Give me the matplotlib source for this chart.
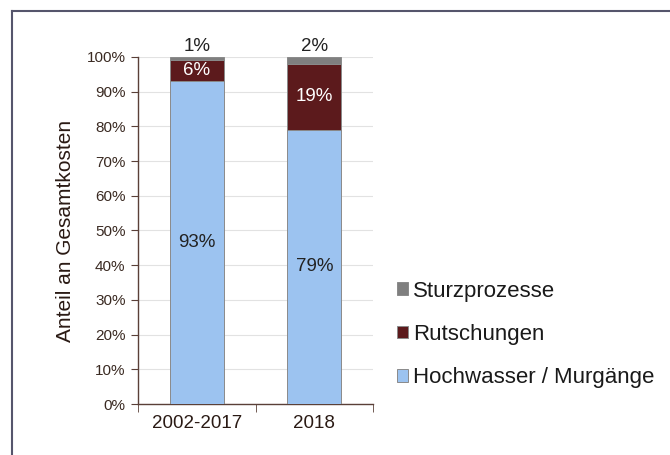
import matplotlib
matplotlib.use("Agg")
import matplotlib.pyplot as plt
import numpy as np

categories = ["2002-2017", "2018"]
hochwasser = [93, 79]
rutschungen = [6, 19]
sturz = [1, 2]
series_names = ["Hochwasser / Murgänge", "Rutschungen", "Sturzprozesse"]
colors = ["#9cc3f0", "#5c1a1c", "#7f7f7f"]

plt.rcParams['font.family'] = ['Liberation Sans', 'DejaVu Sans']

fig = plt.figure(figsize=(6.7, 4.55), dpi=100)
ax = fig.add_axes([0.206, 0.112, 0.351, 0.763])

x = np.arange(len(categories))
w = 0.46
bottom = np.zeros(len(categories))
for vals, name, col in zip([hochwasser, rutschungen, sturz], series_names, colors):
    ax.bar(x, vals, w, bottom=bottom, color=col, edgecolor="#8a8a8a", linewidth=0.7, label=name, zorder=3)
    bottom = bottom + np.array(vals)

# labels
for i in range(len(categories)):
    ax.text(x[i], hochwasser[i] / 2, f"{hochwasser[i]}%", ha="center", va="center", fontsize=13.5, color="#222222", zorder=4)
    ax.text(x[i], hochwasser[i] + rutschungen[i] / 2, f"{rutschungen[i]}%", ha="center", va="center", fontsize=13.5, color="white", zorder=4)
    ax.annotate(f"{sturz[i]}%", (x[i], 100), xytext=(0, 1.5), textcoords="offset points", ha="center", va="bottom", fontsize=13.5, color="#222222")

ax.set_xlim(-0.5, 1.5)
ax.set_ylim(0, 100)
ax.set_yticks(np.arange(0, 101, 10))
ax.set_yticklabels([f"{v}%" for v in range(0, 101, 10)], fontsize=11, color="#3a2a22")
ax.set_xticks(x)
ax.set_xticklabels(categories, fontsize=13.5, color="#2a1a14")
ax.set_xticks([-0.5, 0.5, 1.5], minor=True)
ax.tick_params(axis="x", which="major", length=0, pad=8)
ax.tick_params(axis="x", which="minor", length=6, direction="out", color="#5a4038")
ax.tick_params(axis="y", length=5, direction="out", color="#5a4038", pad=4)
ax.yaxis.grid(True, color="#e2e2e2", linewidth=0.8, zorder=0)
ax.set_axisbelow(True)
for s in ["top", "right"]:
    ax.spines[s].set_visible(False)
for s in ["left", "bottom"]:
    ax.spines[s].set_color("#5a4038")
    ax.spines[s].set_linewidth(1.0)
ax.set_ylabel("Anteil an Gesamtkosten", fontsize=15, color="#2a1a14", labelpad=8)

handles, labels = ax.get_legend_handles_labels()
leg = fig.legend(handles[::-1], labels[::-1], loc="center left", bbox_to_anchor=(0.592, 0.265),
                 frameon=False, fontsize=16, handlelength=0.5, handleheight=0.5,
                 handletextpad=0.25, labelspacing=1.0, borderpad=0, borderaxespad=0)
for t in leg.get_texts():
    t.set_color("#1a1a1a")

# outer frame (left and top edges visible)
fig.add_artist(plt.Line2D([0.018, 0.018], [0.0, 0.976], transform=fig.transFigure, color="#55556c", linewidth=1.5))
fig.add_artist(plt.Line2D([0.018, 1.0], [0.976, 0.976], transform=fig.transFigure, color="#55556c", linewidth=1.5))

fig.savefig("out.png", dpi=100, facecolor="white")
